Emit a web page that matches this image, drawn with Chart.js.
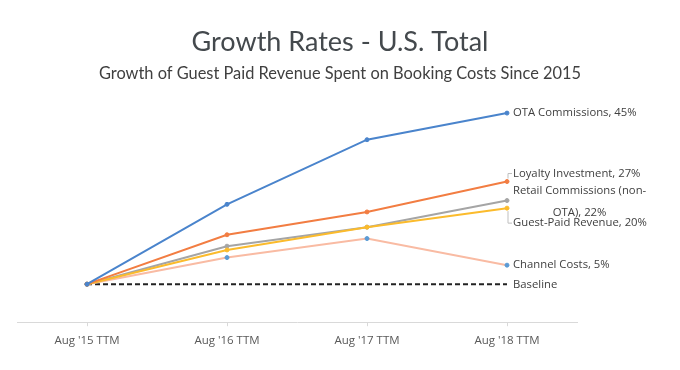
<!DOCTYPE html>
<html>
<head>
<meta charset="utf-8">
<script src="https://cdn.jsdelivr.net/npm/chart.js@4"></script>
<style>
  html, body { margin: 0; padding: 0; background: #fff; }
  #wrap { width: 680px; height: 370px; }
</style>
</head>
<body>
<div id="wrap"><canvas id="growthChart"></canvas></div>
<script>
// Chart data
const periods = ["Aug '15 TTM", "Aug '16 TTM", "Aug '17 TTM", "Aug '18 TTM"];
const otaCommissions = [0, 21, 38, 45];
const loyaltyInvestment = [0, 13, 19, 27];
const retailCommissions = [0, 10, 15, 22];
const guestPaidRevenue = [0, 9, 15, 20];
const channelCosts = [0, 7, 12, 5];
const baseline = [0, 0, 0, 0];
const endLabels = [
    ['OTA Commissions, 45%'],
    ['Loyalty Investment, 27%'],
    ['Retail Commissions (non-', 'OTA), 22%'],
    ['Guest-Paid Revenue, 20%'],
    ['Channel Costs, 5%'],
    ['Baseline']
];

document.addEventListener('DOMContentLoaded', function() {
    // label at the end of each line
    const endLabelPlugin = {
        id: 'endLabels',
        afterDatasetsDraw(chart) {
            const ctx = chart.ctx;
            ctx.save();
            ctx.font = '11.3px "Open Sans", sans-serif';
            ctx.fillStyle = '#404040';
            ctx.textBaseline = 'middle';
            const shift = [0, -8, 0, 15, 0, 1];
            chart.data.datasets.forEach(function(ds, i) {
                const pts = chart.getDatasetMeta(i).data;
                const p = pts[pts.length - 1];
                const x = p.x + 6;
                const y = p.y + shift[i];
                const lines = endLabels[i];
                if (lines.length === 1) {
                    ctx.textAlign = 'left';
                    ctx.fillText(lines[0], x, y);
                } else {
                    const w = ctx.measureText(lines[0]).width;
                    ctx.textAlign = 'left';
                    ctx.fillText(lines[0], x, y - 10);
                    ctx.textAlign = 'center';
                    ctx.fillText(lines[1], x + w / 2, y + 12);
                }
                if (Math.abs(shift[i]) > 5 && lines.length === 1) {
                    // leader line
                    ctx.strokeStyle = '#bfbfbf';
                    ctx.lineWidth = 1;
                    ctx.beginPath();
                    ctx.moveTo(p.x + 1, p.y + (shift[i] < 0 ? -3 : 3));
                    ctx.lineTo(p.x + 1, y);
                    ctx.lineTo(x - 1, y);
                    ctx.stroke();
                }
            });
            ctx.restore();
        }
    };

    const lineStyle = function(color, pointColor) {
        return {
            borderColor: color,
            backgroundColor: pointColor || color,
            pointBackgroundColor: pointColor || color,
            pointBorderColor: pointColor || color,
            borderWidth: 2,
            pointRadius: 2,
            pointBorderWidth: 1,
            tension: 0,
            fill: false
        };
    };

    // invisible side axes reserve room for the end labels
    const spacer = function(pos, w) {
        return {
            position: pos,
            min: -10,
            max: 50,
            grid: { display: false },
            border: { display: false },
            ticks: { display: false },
            afterFit: function(axis) { axis.width = w; }
        };
    };

    new Chart(document.getElementById('growthChart'), {
        type: 'line',
        data: {
            labels: periods,
            datasets: [
                Object.assign({ label: 'OTA Commissions', data: otaCommissions, order: 0 }, lineStyle('#4a84cc')),
                Object.assign({ label: 'Loyalty Investment', data: loyaltyInvestment, order: 1 }, lineStyle('#f27d42')),
                Object.assign({ label: 'Retail Commissions (non-OTA)', data: retailCommissions, order: 3 }, lineStyle('#a5a5a5')),
                Object.assign({ label: 'Guest-Paid Revenue', data: guestPaidRevenue, order: 2 }, lineStyle('#fbbb2c')),
                Object.assign({ label: 'Channel Costs', data: channelCosts, order: 4 }, lineStyle('#f9bba3', '#5b9bd5')),
                {
                    label: 'Baseline',
                    data: baseline,
                    order: 5,
                    borderColor: '#222222',
                    borderWidth: 2,
                    borderDash: [5, 3],
                    pointRadius: 0,
                    fill: false
                }
            ]
        },
        options: {
            responsive: true,
            maintainAspectRatio: false,
            animation: false,
            layout: {
                padding: { left: 0, right: 0, top: 0, bottom: 14 }
            },
            plugins: {
                legend: { display: false },
                tooltip: { enabled: false },
                title: {
                    display: true,
                    text: 'Growth Rates - U.S. Total',
                    color: '#44494d',
                    font: { family: 'Lato', size: 27, weight: 'normal' },
                    padding: { top: 26, bottom: 5 }
                },
                subtitle: {
                    display: true,
                    text: 'Growth of Guest Paid Revenue Spent on Booking Costs Since 2015',
                    color: '#404040',
                    font: { family: 'Lato', size: 16.4 },
                    padding: { top: 0, bottom: 11 }
                }
            },
            scales: {
                x: {
                    offset: true,
                    grid: {
                        display: true,
                        drawOnChartArea: false,
                        tickLength: 4,
                        color: '#d9d9d9'
                    },
                    border: { color: '#d9d9d9' },
                    ticks: {
                        color: '#595959',
                        font: { family: 'Open Sans', size: 11.5 },
                        padding: 8
                    }
                },
                y: spacer('left', 17),
                y2: spacer('right', 103)
            }
        },
        plugins: [endLabelPlugin]
    });
});
</script>
</body>
</html>
